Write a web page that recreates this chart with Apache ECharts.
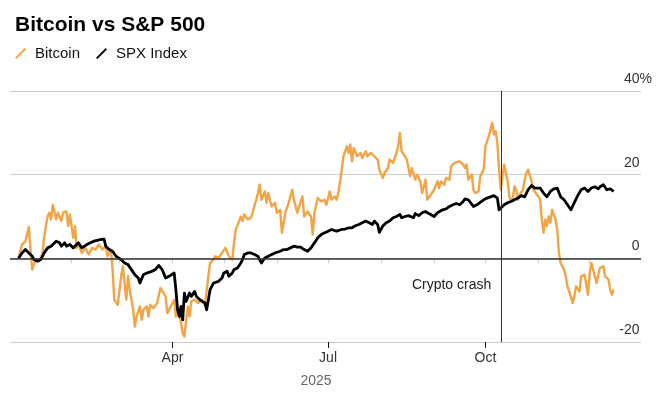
<!DOCTYPE html>
<html lang="en">
  <head>
    <meta charset="UTF-8" />
    <script src="https://cdn.jsdelivr.net/npm/echarts@6/dist/echarts.min.js"></script>
    <style>
      html, body { margin: 0; padding: 0; background: #fff; }
      #main { width: 670px; height: 399px; }
    </style>
    <title>Bitcoin vs S&amp;P 500</title>
  </head>
  <body>
    <div id="main"></div>
    <script>
      // [days since 1 Jan 2025, % change since then]
      const btc = [
        [0,0],[2,3.3],[4,4],[6,7.5],[7,2],[8,-2.7],[10,-0.3],[12,-0.7],[14,1.2],[15,5.3],
        [17,10],[18,10.9],[19,9.3],[20,12.8],[22,9.3],[23,10.9],[25,8.9],[26,10.9],[28,11.2],[29,7.7],
        [30,10.5],[32,4.9],[33,7.7],[34,2.5],[35,3.3],[37,1.3],[39,2.5],[41,0.9],[43,2.5],[45,2.1],
        [47,3.3],[49,2.1],[51,2.9],[52,0.5],[54,2.1],[55,-2.7],[56,-9.9],[58,-11.1],[59,-10.7],[60,-4.3],
        [61,-1.9],[62,-5.9],[63,-9.9],[64,-4.3],[65,-7.5],[67,-12.3],[68,-16.3],[69,-13.9],[71,-11.5],[72,-14.7],
        [73,-12.3],[75,-11.5],[76,-13.9],[77,-11.1],[79,-11.9],[81,-10.7],[83,-7.1],[84,-7.5],[86,-9.1],[87,-13.1],
        [89,-11.5],[91,-9.9],[92,-13.9],[93,-11.5],[95,-15.5],[96,-17.9],[97,-18.7],[98,-14.7],[99,-11.5],[100,-13.9],
        [101,-10.3],[103,-9.9],[105,-10.7],[107,-9.9],[109,-11.1],[111,-4.3],[112,-1.1],[114,-0.3],[115,0.5],[117,0.1],
        [119,1.3],[121,2.5],[123,0.5],[125,-0.3],[126,3.7],[127,6.9],[129,8.9],[130,10],[131,8.9],[132,10.5],
        [134,9.3],[136,9.7],[137,9.3],[139,14],[140,15.6],[141,17.6],[142,14],[144,16],[145,13.3],[146,15.6],
        [148,12.4],[150,13.3],[151,10.9],[153,11.6],[154,6.1],[156,10.9],[158,13.3],[160,16.4],[161,14],[163,10.9],
        [165,13.6],[166,14.8],[167,10],[169,11.2],[171,10],[172,5.7],[173,10.9],[175,14.4],[177,13.6],[179,14],
        [180,12.8],[182,16],[183,14],[185,14.8],[186,14],[187,15.6],[189,21.2],[190,24.4],[192,26.8],[193,25.2],
        [194,27.2],[195,23.2],[196,26.4],[198,24.4],[200,25.2],[201,24],[203,25.6],[204,24.4],[206,25.2],[208,24.4],
        [210,23.6],[211,21.2],[213,19.2],[214,20.4],[216,21.6],[217,23.6],[219,22.8],[221,25.2],[222,26.8],[223,30],
        [224,25.6],[226,24.4],[227,23.6],[229,19.6],[230,21.6],[232,18.8],[233,20],[235,18.4],[236,15.6],[238,18.8],
        [239,14],[241,15.2],[242,14.8],[243,16.4],[245,18.4],[246,16.8],[247,18.4],[249,17.6],[250,19.2],[252,18.8],
        [253,22],[255,22.8],[256,22.4],[258,23.2],[259,23.6],[260,22.4],[261,21.6],[262,22.4],[263,18.8],[265,20],
        [266,16.4],[267,15.6],[269,16],[270,19.6],[272,21.2],[273,26.8],[275,29.2],[276,28.8],[277,32.4],[278,29.6],
        [279,30.4],[280,27.6],[281,21.2],[282,16.4],[283,19.6],[284,22.4],[286,18.4],[287,14.8],[288,13.6],[289,14.4],
        [290,17.2],[291,16.4],[292,14],[293,15.2],[295,16.4],[296,18.8],[297,20.4],[298,21.2],[300,18.4],[301,16.4],
        [302,16.8],[304,14.8],[305,14],[306,9.3],[307,6.1],[308,9.3],[309,7.7],[310,10],[311,8.5],[312,11.6],
        [314,9.3],[315,6.9],[316,1.3],[317,-1.1],[319,-2.7],[320,-4.3],[321,-6.7],[323,-9.1],[324,-10.7],[325,-9.1],
        [326,-6.7],[328,-7.9],[329,-4.3],[331,-3.9],[332,-4.3],[333,-8.7],[334,-3.5],[335,-1.1],[337,-4.3],[338,-5.9],
        [339,-3.9],[340,-2.3],[342,-1.9],[343,-4.3],[345,-5.1],[346,-7.5],[347,-8.7],[348,-7.5]
      ];

      const spx = [
        [0,0],[2,1.3],[4,2.1],[6,1.3],[8,0.5],[9,-0.3],[11,-0.7],[13,-0.3],[15,1.3],[17,2.5],
        [19,2.9],[20,3.3],[22,4.1],[24,3.7],[25,2.9],[27,3.7],[28,2.9],[30,3.3],[32,2.5],[33,2.9],
        [35,3.7],[37,2.5],[38,2.9],[40,3.3],[42,3.7],[44,4.1],[46,4.3],[48,4.5],[50,4.6],[51,2.9],
        [53,2.1],[55,1.7],[57,0.5],[58,0.9],[60,-0.3],[62,-1.1],[64,-1.5],[66,-2.7],[68,-3.9],[70,-4.7],
        [71,-5.9],[73,-3.9],[75,-3.5],[76,-3.9],[78,-3.1],[80,-2.7],[82,-1.7],[84,-2.7],[86,-4.7],[88,-4.3],
        [89,-3.9],[91,-3.5],[92,-7.5],[93,-12.3],[94,-13.9],[95,-11.5],[96,-14.7],[97,-8.3],[98,-10.3],[100,-8.3],
        [101,-9.1],[103,-7.9],[104,-9.1],[106,-9.9],[107,-10.3],[109,-10.7],[110,-12.3],[111,-9.9],[112,-7.5],[114,-5.9],
        [115,-5.9],[117,-5.5],[119,-4.7],[120,-3.5],[122,-3.1],[123,-4.3],[125,-3.5],[126,-2.7],[128,-2.3],[130,-1.1],
        [131,-0.3],[132,0.9],[134,1.3],[136,1.3],[138,0.9],[140,0.5],[142,-1.1],[144,0.1],[146,0.5],[148,0.9],
        [150,1.3],[151,1.1],[153,1.7],[155,2.1],[157,2.1],[159,2.5],[161,2.9],[163,2.7],[165,2.7],[167,2.1],
        [169,1.7],[171,2.5],[173,3.7],[175,4.9],[177,5.7],[179,6.1],[181,6.5],[183,6.9],[184,7],[186,6.5],
        [187,6.1],[189,6.9],[191,7],[193,7.3],[195,7.3],[197,7.8],[199,8.1],[201,8.5],[203,8.9],[205,8.5],
        [207,8.1],[208,8.9],[210,8.1],[211,6.2],[213,7.7],[215,8.5],[217,8.9],[219,9.7],[221,10],[223,10.5],
        [224,9.7],[226,10],[228,10.2],[229,10.5],[231,9.7],[232,10.7],[234,10.2],[236,10.9],[238,11.2],[240,10.7],
        [241,10.9],[243,10],[245,10.9],[246,11.2],[248,11.6],[250,11.8],[252,12.4],[254,12.8],[256,13.1],[258,12.8],
        [260,13.6],[261,14.2],[263,14],[266,12.4],[268,12.8],[270,13.4],[272,14],[274,14.4],[276,14.7],[278,15],
        [280,14.4],[281,11.6],[282,12],[284,12.8],[286,13.3],[288,13.6],[290,14],[292,14.4],[294,15],[296,14.7],
        [298,16.4],[300,17.4],[302,16.8],[303,16.4],[305,16.8],[307,15.6],[309,14.7],[311,16],[313,16.6],[315,16.8],
        [317,14.7],[319,14],[321,12.8],[323,11.6],[325,13.3],[327,15],[329,16.4],[331,16.8],[333,16],[335,16.8],
        [337,17.1],[339,16.6],[340,17.1],[342,17.6],[344,16.4],[346,16.6],[348,16]
      ];

      const monthNames = ["Jan", "Feb", "Mar", "Apr", "May", "Jun", "Jul", "Aug", "Sep", "Oct", "Nov", "Dec"];
      const tickMonths = [1, 2, 3, 4, 5, 6, 7, 8, 9, 10, 11];
      const labelMonths = [3, 6, 9];
      const crashDay = 282;
      const crashLabelY = -6.5;

      const font = '"Liberation Sans", Arial, Helvetica, sans-serif';
      const day = (d) => new Date(2025, 0, 1 + d).getTime();
      const monthStart = (m) => new Date(2025, m, 1).getTime();
      const xMin = new Date(2024, 11, 27).getTime();
      const xMax = new Date(2025, 11, 31).getTime();

      const chart = echarts.init(document.getElementById("main"));

      chart.setOption({
        animation: false,
        textStyle: { fontFamily: font },
        title: {
          text: "Bitcoin vs S&P 500",
          left: 10,
          top: 10,
          textStyle: { fontSize: 21, fontWeight: "bold", color: "#000", fontFamily: font },
        },
        legend: {
          left: 10,
          top: 41,
          itemWidth: 11,
          itemHeight: 12,
          itemGap: 16,
          icon: "path://M0,10.5 L1.5,12 L12,1.5 L10.5,0 Z",
          textStyle: { fontSize: 15, color: "#111", padding: [0, 0, 0, 4], fontFamily: font },
          data: ["Bitcoin", "SPX Index"],
        },
        grid: { left: 10, right: 29, top: 91, bottom: 57 },
        xAxis: [
          {
            type: "value",
            min: xMin,
            max: xMax,
            axisLine: { lineStyle: { color: "#ccc", width: 1 } },
            axisTick: {
              show: true,
              length: 5,
              customValues: tickMonths.map(monthStart),
              lineStyle: { color: "#ccc" },
            },
            axisLabel: { show: false },
            splitLine: { show: false },
          },
          {
            type: "value",
            min: xMin,
            max: xMax,
            position: "bottom",
            axisLine: { show: false },
            axisTick: {
              show: true,
              length: 6,
              customValues: labelMonths.map(monthStart),
              lineStyle: { color: "#111" },
            },
            axisLabel: {
              customValues: labelMonths.map(monthStart),
              formatter: (v) => monthNames[new Date(v).getMonth()],
              margin: 9,
              fontSize: 14,
              color: "#333",
              fontFamily: font,
            },
            splitLine: { show: false },
          },
        ],
        yAxis: {
          type: "value",
          position: "right",
          min: -20,
          max: 40,
          interval: 20,
          axisLine: { show: false },
          axisTick: { show: false },
          splitLine: { lineStyle: { color: "#ccc", width: 1 } },
          axisLabel: {
            align: "right",
            verticalAlign: "bottom",
            margin: 11,
            padding: [0, 0, 5, 0],
            fontSize: 14,
            color: "#333",
            fontFamily: font,
            formatter: (v) => (v === 40 ? "40%" : v + "{h|%}"),
            rich: { h: { color: "rgba(0,0,0,0)", fontSize: 14, fontFamily: font } },
          },
        },
        graphic: [
          {
            type: "text",
            x: 316,
            y: 381,
            style: {
              text: "2025",
              fill: "#666",
              font: "14px " + font,
              textAlign: "center",
              textVerticalAlign: "middle",
            },
          },
        ],
        series: [
          {
            name: "Bitcoin",
            type: "line",
            color: "#f2a446",
            showSymbol: false,
            z: 2,
            lineStyle: { width: 2.4, color: "#f2a446", join: "round" },
            data: btc.map(([d, v]) => [day(d), v]),
            markLine: {
              silent: true,
              symbol: ["none", "none"],
              label: { show: false },
              emphasis: { disabled: true },
              data: [
                { yAxis: 0, lineStyle: { color: "#333", width: 1.5, type: "solid" } },
                { xAxis: day(crashDay), lineStyle: { color: "#333", width: 1, type: "solid" } },
              ],
            },
            markPoint: {
              silent: true,
              symbol: "circle",
              symbolSize: 1,
              itemStyle: { color: "rgba(0,0,0,0)" },
              label: {
                show: true,
                position: "left",
                distance: 9,
                formatter: "Crypto crash",
                fontSize: 14,
                color: "#222",
                fontFamily: font,
              },
              data: [{ coord: [day(crashDay), crashLabelY] }],
            },
          },
          {
            name: "SPX Index",
            type: "line",
            color: "#000",
            showSymbol: false,
            z: 3,
            lineStyle: { width: 2.8, color: "#000", join: "round" },
            data: spx.map(([d, v]) => [day(d), v]),
          },
        ],
      });
    </script>
  </body>
</html>
